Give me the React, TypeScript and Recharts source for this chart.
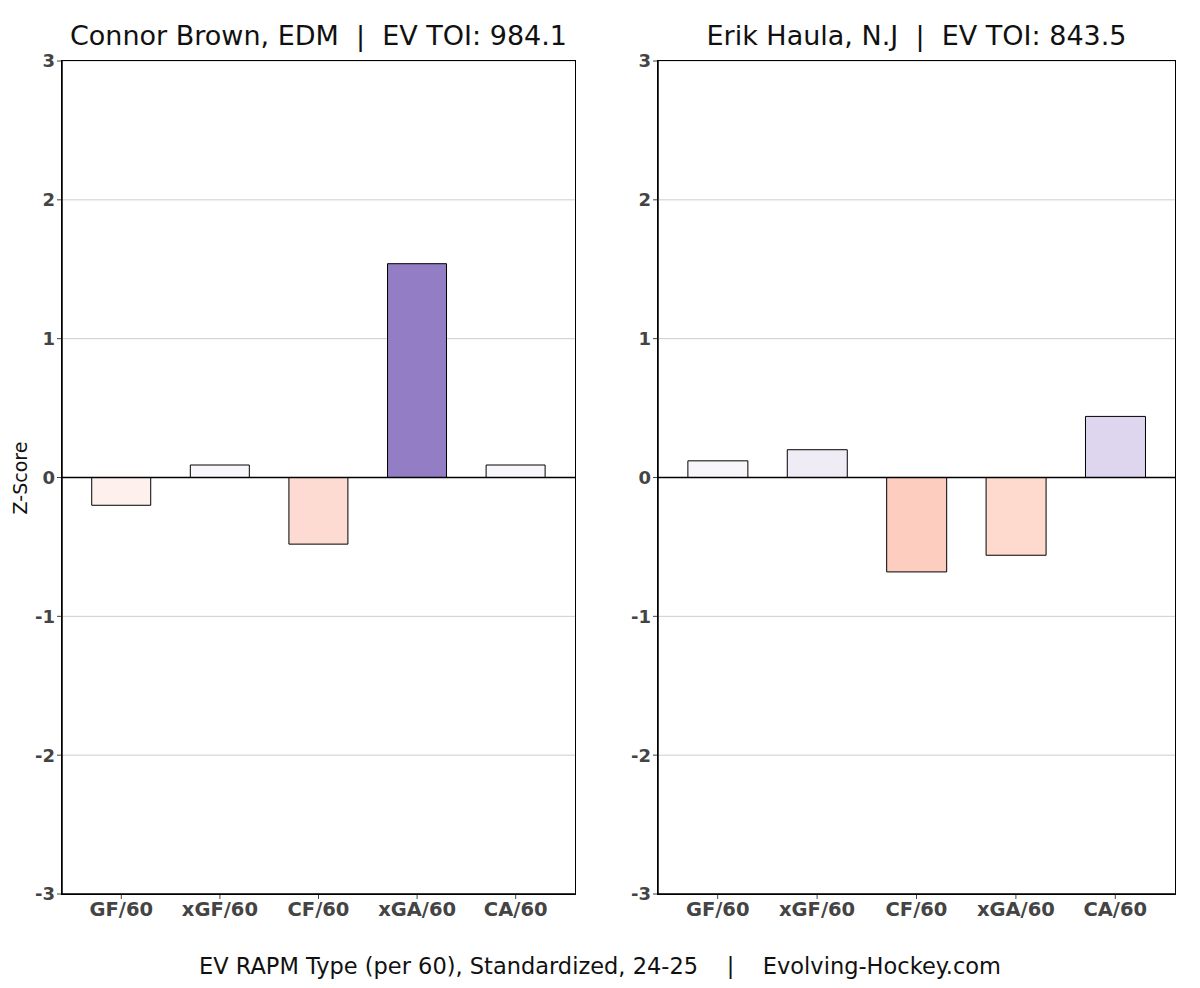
import React from 'react';
import { BarChart, Bar, Cell, XAxis, YAxis, CartesianGrid, ReferenceLine } from 'recharts';

const categories = ['GF/60', 'xGF/60', 'CF/60', 'xGA/60', 'CA/60'];
const yTicks = [-3, -2, -1, 0, 1, 2, 3];

const brownValues = [-0.2, 0.09, -0.48, 1.54, 0.09];
const brownColors = ['#fef0ec', '#f9f7fc', '#fedbd2', '#937dc5', '#f9f7fc'];

const haulaValues = [0.12, 0.2, -0.68, -0.56, 0.44];
const haulaColors = ['#f8f6fb', '#efecf6', '#fdcdbf', '#fed9cd', '#ded6ee'];

const font = "'DejaVu Sans', sans-serif";

type PanelProps = {
  title: string;
  values: number[];
  colors: string[];
  left: number;
  width: number;
  marginLeft: number;
  marginRight: number;
  yLabel?: boolean;
};

function Panel({ title, values, colors, left, width, marginLeft, marginRight, yLabel }: PanelProps) {
  const data = categories.map((name, i) => ({ name, value: values[i] }));
  const plotLeft = marginLeft + 40;
  const plotWidth = width - plotLeft - marginRight;
  const plotTop = 61;
  const plotHeight = 988 - plotTop - 64 - 30;
  return (
    <div style={{ position: 'absolute', left, top: 0, width, height: 988 }}>
      <div
        style={{
          position: 'absolute',
          top: 20,
          left: plotLeft,
          width: plotWidth,
          textAlign: 'center',
          fontFamily: font,
          fontSize: 27,
          color: '#111',
          whiteSpace: 'pre',
        }}
      >
        {title}
      </div>
      <BarChart
        width={width}
        height={988}
        data={data}
        margin={{ top: plotTop, bottom: 64, left: marginLeft, right: marginRight }}
        barCategoryGap="20%"
      >
        <CartesianGrid horizontal vertical={false} stroke="#cccccc" strokeWidth={1} />
        <XAxis
          dataKey="name"
          height={30}
          padding={{ left: 10, right: 10 }}
          axisLine={{ stroke: '#000', strokeWidth: 1.5 }}
          tickLine={{ stroke: '#444' }}
          tickSize={5}
          tickMargin={3}
          tick={{ fontFamily: font, fontSize: 19.5, fontWeight: 'bold', fill: '#444' }}
        />
        <YAxis
          domain={[-3, 3]}
          ticks={yTicks}
          width={40}
          interval={0}
          axisLine={{ stroke: '#000', strokeWidth: 1.5 }}
          tickLine={{ stroke: '#444' }}
          tickSize={5}
          tickMargin={2}
          tick={{ fontFamily: font, fontSize: 18, fontWeight: 'bold', fill: '#444' }}
        />
        <ReferenceLine y={0} stroke="#000" strokeWidth={1.5} />
        <Bar dataKey="value" stroke="#000" strokeWidth={1} isAnimationActive={false}>
          {data.map((d, i) => (
            <Cell key={d.name} fill={colors[i]} />
          ))}
        </Bar>
      </BarChart>
      <div
        style={{
          position: 'absolute',
          left: plotLeft - 1,
          top: plotTop - 1,
          width: plotWidth,
          height: plotHeight,
          border: '1.5px solid #000',
          pointerEvents: 'none',
        }}
      />
      {yLabel && (
        <div
          style={{
            position: 'absolute',
            left: 20,
            top: 478,
            transform: 'translate(-50%, -50%) rotate(-90deg)',
            fontFamily: font,
            fontSize: 19,
            color: '#111',
            whiteSpace: 'nowrap',
          }}
        >
          Z-Score
        </div>
      )}
    </div>
  );
}

export default function App() {
  return (
    <div style={{ position: 'absolute', left: 0, top: 0, width: 1200, height: 988, background: '#fff' }}>
      <Panel
        title="Connor Brown, EDM  |  EV TOI: 984.1"
        values={brownValues}
        colors={brownColors}
        left={0}
        width={600}
        marginLeft={22}
        marginRight={25}
        yLabel
      />
      <Panel
        title="Erik Haula, N.J  |  EV TOI: 843.5"
        values={haulaValues}
        colors={haulaColors}
        left={600}
        width={600}
        marginLeft={18}
        marginRight={25}
      />
      <div
        style={{
          position: 'absolute',
          top: 953,
          left: 0,
          width: 1200,
          textAlign: 'center',
          fontFamily: font,
          fontSize: 22.5,
          color: '#111',
          whiteSpace: 'pre',
        }}
      >
        {'EV RAPM Type (per 60), Standardized, 24-25    |    Evolving-Hockey.com'}
      </div>
    </div>
  );
}
